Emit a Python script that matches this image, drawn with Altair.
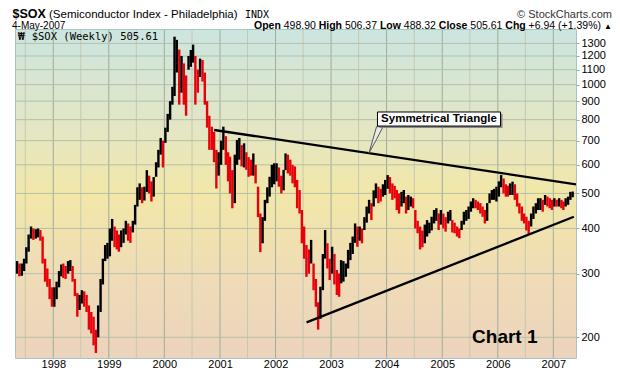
import altair as alt
import pandas as pd

# ---------------- data ----------------
y_ticks = [200, 300, 400, 500, 600, 700, 800, 900, 1000, 1100, 1200, 1300]
y_domain = [175.3, 1416]
x_start = "1997-05-01"
x_end = "2007-05-30"
first_bar = (1997, 5)          # semi-monthly bars start May 1997
year_labels = list(range(1998, 2008))

# semi-monthly highs / lows of $SOX (weekly chart)
highs = [
    # 1997 May-Dec
    325, 320, 320, 330, 355, 385, 405, 400, 398, 400, 396, 380, 330, 310, 290, 275,
    # 1998
    275, 285, 305, 318, 320, 315, 325, 327, 315, 290, 265, 262, 270, 268, 262, 245, 235, 228, 210, 245, 290, 330, 360, 365,
    # 1999
    400, 425, 405, 395, 385, 395, 400, 420, 413, 405, 420, 465, 520, 533, 520, 522, 580, 560, 540, 555, 610, 660, 712, 700,
    # 2000
    760, 830, 900, 986, 1357, 1330, 1250, 1200, 1145, 1060, 1200, 1247, 1290, 1200, 1100, 1180, 1170, 1080, 900, 820, 765, 740, 660, 650,
    # 2001
    700, 765, 720, 650, 632, 580, 640, 703, 712, 680, 688, 650, 630, 620, 645, 600, 522, 440, 430, 480, 520, 556, 600, 606,
    # 2002
    606, 590, 560, 581, 645, 640, 620, 600, 594, 545, 511, 450, 405, 360, 350, 372, 320, 290, 250, 276, 340, 396, 364, 330,
    # 2003
    356, 340, 307, 300, 327, 325, 320, 349, 365, 380, 413, 405, 405, 400, 430, 460, 480, 470, 510, 533, 522, 515, 530, 545,
    # 2004
    562, 555, 533, 525, 511, 500, 505, 511, 490, 495, 490, 485, 450, 420, 405, 395, 410, 422, 415, 431, 450, 455, 440, 450,
    # 2005
    440, 430, 445, 450, 422, 415, 405, 400, 420, 445, 450, 460, 475, 485, 480, 475, 470, 460, 450, 470, 500, 511, 515, 522,
    # 2006
    540, 562, 550, 530, 525, 533, 539, 530, 500, 470, 460, 440, 431, 420, 440, 460, 470, 485, 485, 480, 495, 490, 485, 480,
    # 2007 Jan-early May
    485, 480, 485, 480, 475, 485, 490, 505, 506,
]
lows = [
    # 1997 May-Dec
    300, 295, 296, 305, 320, 345, 375, 372, 375, 378, 370, 320, 285, 276, 255, 243,
    # 1998
    243, 255, 275, 295, 292, 290, 300, 305, 285, 260, 228, 238, 248, 243, 235, 210, 205, 190, 181, 200, 235, 280, 325, 330,
    # 1999
    335, 370, 355, 350, 345, 355, 365, 385, 370, 365, 390, 410, 460, 480, 470, 478, 505, 500, 475, 490, 556, 590, 640, 590,
    # 2000
    690, 740, 800, 880, 930, 1080, 880, 950, 880, 820, 1100, 1120, 1150, 880, 950, 1050, 1020, 880, 760, 660, 660, 610, 516, 560,
    # 2001
    600, 660, 600, 540, 500, 455, 470, 600, 620, 594, 590, 581, 556, 560, 560, 533, 430, 344, 364, 420, 470, 490, 520, 530,
    # 2002
    540, 522, 500, 510, 580, 568, 560, 533, 520, 455, 440, 364, 330, 294, 300, 320, 270, 243, 210, 225, 270, 330, 310, 288,
    # 2003
    300, 280, 262, 259, 282, 285, 294, 310, 327, 340, 365, 356, 370, 364, 396, 415, 440, 422, 460, 485, 470, 475, 490, 495,
    # 2004
    515, 500, 480, 485, 450, 440, 460, 470, 440, 450, 460, 455, 400, 388, 350, 355, 364, 380, 388, 395, 413, 420, 396, 410,
    # 2005
    400, 392, 413, 420, 390, 388, 380, 376, 396, 410, 420, 425, 445, 455, 455, 450, 440, 431, 413, 420, 470, 480, 480, 475,
    # 2006
    490, 520, 500, 490, 490, 495, 495, 480, 460, 440, 420, 413, 395, 385, 405, 425, 440, 450, 450, 445, 465, 460, 455, 450,
    # 2007 Jan-early May
    460, 460, 460, 455, 450, 460, 465, 480, 488,
]

# trend lines of the symmetrical triangle
upper_dates = ["2000-11-24", "2007-05-30"]
upper_vals = [749, 530]
lower_dates = ["2002-07-24", "2007-05-16"]
lower_vals = [220, 431]

# callout ("Symmetrical Triangle")
callout_text = "Symmetrical Triangle"
callout_box = {"x": "2003-11-02", "x2": "2006-01-19", "y": 768, "y2": 840}
callout_shadow = {"x": "2003-11-15", "x2": "2006-02-01", "y": 758, "y2": 830}
callout_text_pos = {"date": "2004-12-10", "val": 803}
pointer_dates = ["2003-09-07", "2003-10-27", "2003-12-09"]
pointer_top = [646, 765, 765]
pointer_bottom = [646, 706, 765]
chart_label = "Chart 1"
chart_label_pos = {"date": "2006-02-16", "val": 192.9}

# header texts
symbol = "$SOX"
symbol_pos = {"date": "1997-04-08", "val": 1533}
index_name = "(Semiconductor Index - Philadelphia)"
exchange = "INDX"
copyright_txt = "\u00a9 StockCharts.com"
date_txt = "4-May-2007"
ohlc = [("Open", "498.90"), ("High", "506.37"), ("Low", "488.32"), ("Close", "505.61"),
        ("Chg", "+6.94 (+1.39%)")]
legend_txt = "$SOX (Weekly) 505.61"

# ---------------- build tables ----------------
bar_dates = []
yy, mm = first_bar
for i in range(len(highs)):
    bar_dates.append(f"{yy}-{mm:02d}-{8 if i % 2 == 0 else 23:02d}")
    if i % 2 == 1:
        mm += 1
        if mm == 13:
            yy, mm = yy + 1, 1

dirs = []
prev = None
for h, l in zip(highs, lows):
    mid = (h + l) / 2
    dirs.append("down" if prev is not None and mid < prev else "up")
    prev = mid

bars_df = pd.DataFrame({"date": bar_dates, "hi": highs, "lo": lows, "dir": dirs})

FONT = "Liberation Sans, Arial, sans-serif"
MONO = "DejaVu Sans Mono, monospace"

grid_dates = [f"{y}-{m:02d}-01" for y in range(1997, 2008) for m in (1, 7)
              if "1997-05-01" < f"{y}-{m:02d}-01" < "2007-05-01"]
vgrid_df = pd.DataFrame({"date": grid_dates,
                         "kind": ["year" if d.endswith("-01-01") else "half" for d in grid_dates]})
hgrid_df = pd.DataFrame({"val": y_ticks})

x_label_vals = [alt.DateTime(year=y, month=1, date=1) for y in year_labels]

xscale = alt.Scale(domain=[alt.DateTime(year=1997, month=5, date=1),
                           alt.DateTime(year=2007, month=5, date=30)])
yscale = alt.Scale(type="log", domain=y_domain, nice=False, zero=False)

xaxis = alt.Axis(
    values=x_label_vals, title=None, domain=False, ticks=False, labelPadding=0,
    format="%Y", labelFont=FONT, labelFontSize=11, labelColor="#000000", labelAngle=0,
    labelFlush=False, grid=False,
)
yaxis = alt.Axis(
    orient="right", values=y_ticks, title=None, domain=False, format="d",
    tickSize=3, tickColor="#8fb1aa", labelPadding=2,
    labelFont=FONT, labelFontSize=11, labelColor="#000000", grid=False,
)

gradient = alt.LinearGradient(
    gradient="linear",
    stops=[
        alt.GradientStop(color="#cbe5e0", offset=0),
        alt.GradientStop(color="#e4e6c4", offset=0.3),
        alt.GradientStop(color="#f2e7a8", offset=0.5),
        alt.GradientStop(color="#efdcb6", offset=0.75),
        alt.GradientStop(color="#ecd3bd", offset=1),
    ],
    x1=0, x2=0, y1=0, y2=1,
)

bg = alt.Chart(pd.DataFrame({"x": [x_start], "x2": [x_end],
                             "y": [y_domain[0]], "y2": [y_domain[1]]})).mark_rect(
    color=gradient).encode(
    x=alt.X("x:T", scale=xscale, axis=xaxis), x2="x2:T",
    y=alt.Y("y:Q", scale=yscale, axis=yaxis), y2="y2:Q")

vgrid = alt.Chart(vgrid_df).mark_rule(strokeWidth=1).encode(
    x="date:T",
    color=alt.Color("kind:N", scale=alt.Scale(domain=["year", "half"],
                                              range=["#9eac98", "#c3c9b2"]), legend=None))
hgrid = alt.Chart(hgrid_df).mark_rule(strokeWidth=1, color="#b6bfa8").encode(y="val:Q")

bars = alt.Chart(bars_df).mark_rule(strokeWidth=2.4).encode(
    x="date:T",
    y="lo:Q",
    y2="hi:Q",
    stroke=alt.Stroke("dir:N", scale=alt.Scale(domain=["up", "down"], range=["#000000", "#e8000b"]),
                      legend=None),
)

lines_df = pd.DataFrame({
    "date": upper_dates + lower_dates,
    "val": upper_vals + lower_vals,
    "which": ["upper"] * 2 + ["lower"] * 2,
})
trend = alt.Chart(lines_df).mark_line(color="#000000", strokeWidth=2.3, clip=True).encode(
    x="date:T", y="val:Q", detail="which:N")

pointer_df = pd.DataFrame({"date": pointer_dates, "top": pointer_top, "bottom": pointer_bottom})
pointer = alt.Chart(pointer_df).mark_area(fill="#e9e9e9", stroke="#555555", strokeWidth=1).encode(
    x="date:T", y="top:Q", y2="bottom:Q")

shadow = alt.Chart(pd.DataFrame([callout_shadow])).mark_rect(fill="#8a8a8a").encode(
    x="x:T", x2="x2:T", y="y:Q", y2="y2:Q")
box = alt.Chart(pd.DataFrame([callout_box])).mark_rect(fill="#ffffff", stroke="#000000",
                                                        strokeWidth=1).encode(
    x="x:T", x2="x2:T", y="y:Q", y2="y2:Q")
box_text = alt.Chart(pd.DataFrame([dict(callout_text_pos, t=callout_text)])).mark_text(
    font=FONT, fontSize=11.5, fontWeight="bold", color="#000000", align="center",
    baseline="middle").encode(x="date:T", y="val:Q", text="t:N")

chart1 = alt.Chart(pd.DataFrame([dict(chart_label_pos, t=chart_label)])).mark_text(
    font=FONT, fontSize=19, fontWeight="bold", color="#000000", align="center",
    baseline="alphabetic").encode(x="date:T", y="val:Q", text="t:N")

symbol_mark = alt.Chart(pd.DataFrame([dict(symbol_pos, t=symbol)])).mark_text(
    font=FONT, fontSize=12.5, fontWeight="bold", color="#000000", align="left",
    baseline="alphabetic").encode(x="date:T", y="val:Q", text="t:N")


# ---------------- header / legend texts (pixel positions, relative to plot) ----------------
def label(txt, x, y, size=11, weight="normal", font=FONT, color="#000000", align="left"):
    return alt.Chart(pd.DataFrame({"t": [txt]})).mark_text(
        font=font, fontSize=size, fontWeight=weight, color=color,
        align=align, baseline="alphabetic").encode(
        text="t:N", x=alt.value(x), y=alt.value(y))


ohlc_x = [(238, 267.7), (302.7, 328.9), (363.9, 387.8), (422.8, 454.3), (489.3, 512.6)]
header = [
    label(index_name, 33, -12.5, size=11.5),
    label(exchange, 229, -12.5, size=10, font=MONO),
    label(copyright_txt, 596, -12.5, size=11, color="#333333", align="right"),
    label(date_txt, -4, -1.5, size=10),
    label("\u25b2", 588, -1.5, size=8),
    label("\u20a9", 2, 10, size=11, weight="bold", font=MONO),
    label(legend_txt, 15.7, 10, size=10.5, font=MONO),
]
for (name, val), (xn, xv) in zip(ohlc, ohlc_x):
    header.append(label(name, xn, -1.5, size=10.5, weight="bold"))
    header.append(label(val, xv, -1.5, size=10.5))

chart = alt.layer(
    bg, vgrid, hgrid, bars, trend, pointer, shadow, box, box_text, chart1, symbol_mark, *header
).resolve_scale(
    color="independent", stroke="independent"
).properties(
    width=560, height=328,
    autosize=alt.AutoSizeParams(type="none"),
    padding={"left": 8, "top": 22, "right": 36, "bottom": 14},
    background="#ffffff",
).configure_view(
    stroke="#8fb1aa", strokeWidth=1.5,
)

chart.save("out.html", embed_options={"renderer": "svg", "actions": False})
